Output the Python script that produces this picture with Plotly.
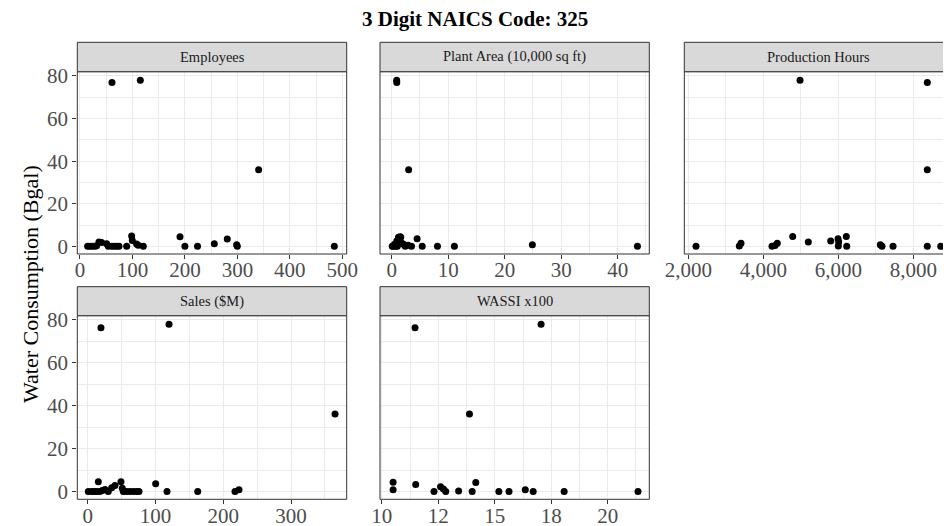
import plotly.graph_objects as go

# ---------------- data ----------------
emp_x = [14.6, 19, 23.5, 28.6, 31.7, 36.2, 41.3, 50.8, 54, 60.3, 65.4, 69.9, 74.3, 89, 98.5, 99.7,
         108, 111, 120.7, 190.6, 200, 224, 256, 280.7, 298.6, 299.8, 484.7, 61, 115, 340.5]
emp_y = [0, 0, 0, 0, 0.3, 2.0, 1.8, 1.2, 0, 0, 0, 0, 0, 0, 4.8, 2.7,
         1.1, 0.5, 0, 4.5, 0, 0, 1.25, 3.4, 0.8, 0, 0, 76.9, 78.0, 36.0]

pa_x = [0.1, 0.3, 0.5, 0.7, 0.9, 1.0, 1.2, 1.4, 1.5, 1.6, 1.8, 2.1, 2.4, 2.9, 3.5, 4.5, 5.4, 8.1,
        11.1, 24.9, 43.5, 0.88, 0.9, 3.0]
pa_y = [0, 0, 1.0, 0, 2.5, 0, 4.3, 3.0, 4.5, 4.3, 1.5, 1.0, 0, 0.5, 0, 3.6, 0, 0,
        0, 0.8, 0, 78.0, 76.9, 36.0]

ph_x = [2205, 3360, 3405, 4232, 4312, 4373, 4784, 5200, 5797, 5992, 6000, 6010, 6213, 6224,
        7120, 7165, 7459, 8373, 8731, 4979, 8373, 8373]
ph_y = [0, 0.2, 1.4, 0, 0.4, 1.4, 4.6, 2.0, 2.5, 3.6, 0.2, 2.0, 4.6, 0,
        0.8, 0, 0, 0, 0, 78.0, 76.9, 36.0]

s_x = [0.9, 5.9, 9.8, 13.3, 15.7, 18.1, 21.6, 25.5, 30.4, 35.4, 40.3, 49.1, 51.1, 52.6, 57.5,
       62.4, 67.3, 72.2, 75.7, 100.3, 117, 162.3, 217.3, 223.2, 19.6, 120, 364.9]
s_y = [0, 0, 0, 0, 4.6, 0, 0.5, 1.0, 0, 1.8, 2.8, 4.6, 1.5, 0, 0,
       0, 0, 0, 0, 3.6, 0, 0, 0, 0.8, 76.4, 78.0, 36.2]

w_x = [10.5, 10.5, 11.5, 12.31, 12.6, 12.73, 12.83, 13.4, 14.0, 14.16, 15.18, 15.63, 16.35,
       16.7, 18.07, 21.34, 11.47, 17.05, 13.88]
w_y = [4.4, 0.9, 3.3, 0, 2.3, 1.2, 0, 0.3, 0, 4.2, 0, 0, 0.9,
       0, 0, 0, 76.4, 78.0, 36.2]

panel_titles = ["Employees", "Plant Area (10,000 sq ft)", "Production Hours", "Sales ($M)", "WASSI x100"]

emp_ticks = [0, 100, 200, 300, 400, 500]
emp_labels = ["0", "100", "200", "300", "400", "500"]
pa_ticks = [0, 10, 20, 30, 40]
pa_labels = ["0", "10", "20", "30", "40"]
ph_ticks = [2000, 4000, 6000, 8000]
ph_labels = ["2,000", "4,000", "6,000", "8,000"]
s_ticks = [0, 100, 200, 300]
s_labels = ["0", "100", "200", "300"]
w_ticks = [10, 12.5, 15, 17.5, 20]
w_labels = ["10", "12", "15", "18", "20"]

y_ticks = [0, 20, 40, 60, 80]
y_labels = ["0", "20", "40", "60", "80"]

title_text = "3 Digit NAICS Code: 325"
y_title = "Water Consumption (Bgal)"

# ---------------- layout geometry ----------------
W, H = 951, 526
OFF = 8  # page body margin offset
def px(x):
    return (x - OFF) / W
def py(y):
    return 1 - (y - OFF) / H

col_dom = [(px(77.3), px(346.7)), (px(380), px(649.3)), (px(684.3), px(951))]
row_dom = [(py(254), py(71.7)), (py(499.3), py(315.7))]
strip_dom = [(py(71.7), py(42.3)), (py(315.7), py(286.7))]
panel_w = col_dom[0][1] - col_dom[0][0]

panels = [
    (emp_x, emp_y, emp_ticks, emp_labels, [-5.1, 508.3], 0, 0),
    (pa_x, pa_y, pa_ticks, pa_labels, [-2.07, 45.6], 0, 1),
    (ph_x, ph_y, ph_ticks, ph_labels, [1893, 9005], 0, 2),
    (s_x, s_y, s_ticks, s_labels, [-15.3, 382.1], 1, 0),
    (w_x, w_y, w_ticks, w_labels, [9.92, 21.84], 1, 1),
]

FONT = "Liberation Serif, Times New Roman, serif"
GRID = "#EBEBEB"
BORDER = "#333333"
TICKSIZE = 21

fig = go.Figure()
shapes = []
annotations = []

for i, (xs, ys, tv, tt, xr, r, c) in enumerate(panels):
    n = i + 1
    xa = "x" if n == 1 else f"x{n}"
    ya = "y" if n == 1 else f"y{n}"
    fig.add_trace(go.Scatter(x=xs, y=ys, mode="markers", xaxis=xa, yaxis=ya,
                             marker=dict(color="black", size=7), showlegend=False,
                             hoverinfo="skip", cliponaxis=False))
    step = tv[1] - tv[0]
    minor_x = [tv[0] - step / 2] + [v + step / 2 for v in tv]
    xkey = "xaxis" if n == 1 else f"xaxis{n}"
    ykey = "yaxis" if n == 1 else f"yaxis{n}"
    fig.layout[xkey] = dict(
        domain=list(col_dom[c]), anchor=ya, range=xr, automargin=False,
        tickmode="array", tickvals=tv, ticktext=tt,
        ticks="outside", ticklen=4, tickwidth=1, tickcolor=BORDER,
        ticklabelstandoff=-7,
        tickfont=dict(family=FONT, size=TICKSIZE, color="#4D4D4D"),
        showgrid=True, gridcolor=GRID, gridwidth=1.1,
        minor=dict(tickvals=minor_x, showgrid=True, gridcolor=GRID, gridwidth=0.6, ticks=""),
        zeroline=False, showline=False, fixedrange=True,
    )
    show_y = (c == 0)
    fig.layout[ykey] = dict(
        domain=list(row_dom[r]), anchor=xa, range=[-3.6, 82.0], automargin=False,
        tickmode="array", tickvals=y_ticks, ticktext=y_labels,
        showticklabels=show_y,
        ticks="outside" if show_y else "", ticklen=4, tickwidth=1, tickcolor=BORDER,
        tickfont=dict(family=FONT, size=TICKSIZE, color="#4D4D4D"),
        showgrid=True, gridcolor=GRID, gridwidth=1.1,
        minor=dict(tickvals=[10, 30, 50, 70], showgrid=True, gridcolor=GRID, gridwidth=0.6, ticks=""),
        zeroline=False, showline=False, fixedrange=True,
    )
    x0, x1 = col_dom[c]
    if c == 2:
        x1 = 1.01
    shapes.append(dict(type="rect", xref="paper", yref="paper", x0=x0, x1=x1,
                       y0=row_dom[r][0], y1=row_dom[r][1],
                       line=dict(color=BORDER, width=1), fillcolor="rgba(0,0,0,0)", layer="above"))
    shapes.append(dict(type="rect", xref="paper", yref="paper", x0=x0, x1=x1,
                       y0=strip_dom[r][0], y1=strip_dom[r][1],
                       line=dict(color=BORDER, width=1), fillcolor="#D9D9D9", layer="above"))
    annotations.append(dict(text=panel_titles[i], xref="paper", yref="paper",
                            x=col_dom[c][0] + panel_w / 2,
                            y=(strip_dom[r][0] + strip_dom[r][1]) / 2,
                            showarrow=False, xanchor="center", yanchor="middle",
                            font=dict(family=FONT, size=14.5, color="#1A1A1A")))

annotations.append(dict(text="<b>" + title_text + "</b>", xref="paper", yref="paper",
                        x=px(475), y=py(19), showarrow=False, xanchor="center", yanchor="middle",
                        font=dict(family=FONT, size=21, color="black")))
annotations.append(dict(text=y_title, xref="paper", yref="paper", textangle=-90,
                        x=px(30), y=py(284), showarrow=False, xanchor="center", yanchor="middle",
                        font=dict(family=FONT, size=22, color="black")))

fig.update_layout(template="none", width=W, height=H,
                  margin=dict(l=0, r=0, t=0, b=0, autoexpand=False),
                  paper_bgcolor="white", plot_bgcolor="white",
                  shapes=shapes, annotations=annotations, showlegend=False)

fig.write_html("out.html", config={"displayModeBar": False})
